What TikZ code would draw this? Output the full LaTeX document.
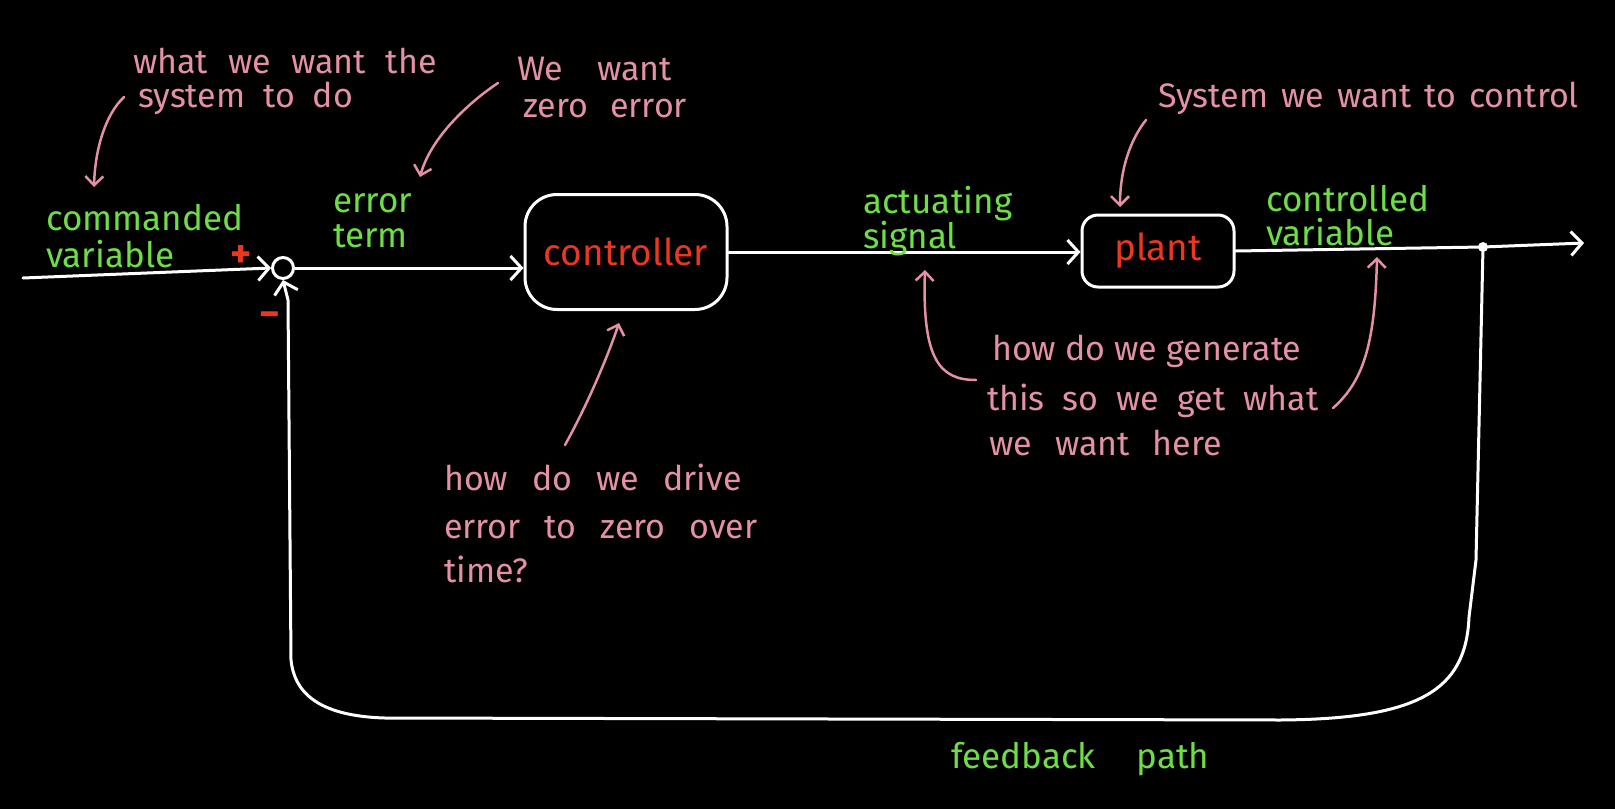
\documentclass[tikz,border=0pt]{standalone}
\usepackage{fontspec}
\setmainfont{Fira Sans}
\usetikzlibrary{arrows.meta}
\definecolor{hgreen}{RGB}{110,222,70}
\definecolor{hpink}{RGB}{228,145,165}
\definecolor{hred}{RGB}{235,55,30}
\newcommand\wgap[1]{\hspace{#1pt}}
\begin{document}
\begin{tikzpicture}[x=1pt,y=-1pt,
  wire/.style={draw=white,line width=3pt,line cap=round,line join=round},
  warrow/.style={-{Straight Barb[length=11pt,width=24pt,line width=3pt]}},
  parrow/.style={draw=hpink,line width=2.5pt,line cap=round,-{Straight Barb[length=9pt,width=18pt,line width=2.5pt]}},
  note/.style={text=hpink,font=\fontsize{34}{40}\selectfont,inner sep=0,anchor=base west},
  sig/.style={text=hgreen,font=\fontsize{35}{40}\selectfont,inner sep=0,anchor=base west},
  sign/.style={text=hred,font=\fontsize{40}{40}\selectfont\bfseries,inner sep=0},
  block/.style={draw=white,line width=3pt,text=hred,font=\fontsize{37}{40}\selectfont,inner sep=0},
  sumc/.style={circle,draw=white,line width=3pt,minimum size=21pt,inner sep=0},
  tapdot/.style={circle,fill=white,minimum size=10pt,inner sep=0}
]
\fill[black] (0,0) rectangle (1615,809);
\useasboundingbox (0,0) rectangle (1615,809);

% blocks
\coordinate (in) at (23,278);
\node[sumc] (sum) at (283,268) {};
\node[block,minimum width=202pt,minimum height=115pt,rounded corners=32pt] (ctrl) at (626,252) {controller};
\node[block,minimum width=152pt,minimum height=72pt,rounded corners=16pt] (plant) at (1158,251) {\raisebox{6pt}{plant}};
\node[tapdot] (tap) at (1483,247) {};
\coordinate (out) at (1584,243);

% signal wires
\draw[wire,warrow] (in) -- (sum.west);
\draw[wire,warrow] (sum.east) -- (sum.east -| ctrl.west);
\draw[wire,warrow] (ctrl.east) -- (ctrl.east -| plant.west);
\draw[wire] (plant.east) -- (tap.center);
\draw[wire,warrow] (tap.center) -- (out);
\draw[wire,warrow] (tap.center) -- (1476,560) -- (1469,617)
  .. controls (1466,690) and (1420,719) .. (1280,720) -- (385,718)
  .. controls (315,716) and (294,690) .. (291,660) -- (288,300) -- (sum.south);

% signs
\node[sign] (plus) at (241,257) {+};
\node[sign] (minus) at (270,320) {−};

% green labels
\node[sig] (cmd1) at (46,230) {commanded};
\node[sig] (cmd2) at (46,267) {variable};
\node[sig] (err1) at (333,212) {error};
\node[sig] (err2) at (333,247) {term};
\node[sig] (act1) at (863,213) {actuating};
\node[sig] (act2) at (863,248) {signal};
\node[sig] (cv1) at (1266,211) {controlled};
\node[sig] (cv2) at (1266,245) {variable};
\node[sig] (fb) at (951,768) {feedback\wgap{41}path};

% pink notes
\node[note] (n1a) at (133,73) {what\wgap{20}we\wgap{20}want\wgap{20}the};
\node[note] (n1b) at (138,107) {system\wgap{18}to\wgap{18}do};
\node[note] (n2a) at (517,80) {We\wgap{34}want};
\node[note] (n2b) at (523,117) {zero\wgap{22}error};
\node[note] (n3) at (1158,107) {System\wgap{13}we\wgap{13}want\wgap{13}to\wgap{13}control};
\node[note] (n4a) at (444,490) {how\wgap{24}do\wgap{24}we\wgap{24}drive};
\node[note] (n4b) at (444,538) {error\wgap{24}to\wgap{24}zero\wgap{24}over};
\node[note] (n4c) at (444,582) {time?};
\node[note] (n5a) at (992,360) {how do we generate};
\node[note] (n5b) at (987,410) {this\wgap{18}so\wgap{18}we\wgap{18}get\wgap{18}what};
\node[note] (n5c) at (989,455) {we\wgap{23}want\wgap{23}here};

% pink arrows
\coordinate (a1s) at (124,97);  \coordinate (a1e) at (94,187);
\coordinate (a2s) at (498,83);  \coordinate (a2e) at (420,177);
\coordinate (a3s) at (1146,120); \coordinate (a3e) at (1120,207);
\coordinate (a4s) at (565,445); \coordinate (a4e) at (619,323);
\coordinate (a5s) at (976,380); \coordinate (a5e) at (925,270);
\coordinate (a6s) at (1333,408); \coordinate (a6e) at (1377,257);
\draw[parrow] (a1s) .. controls (105,115) and (95,150) .. (a1e);
\draw[parrow] (a2s) .. controls (465,105) and (430,140) .. (a2e);
\draw[parrow] (a3s) .. controls (1130,140) and (1120,170) .. (a3e);
\draw[parrow] (a4s) .. controls (590,400) and (610,350) .. (a4e);
\draw[parrow] (a5s) .. controls (940,380) and (922,360) .. (a5e);
\draw[parrow] (a6s) .. controls (1365,380) and (1375,340) .. (a6e);
\end{tikzpicture}
\end{document}
